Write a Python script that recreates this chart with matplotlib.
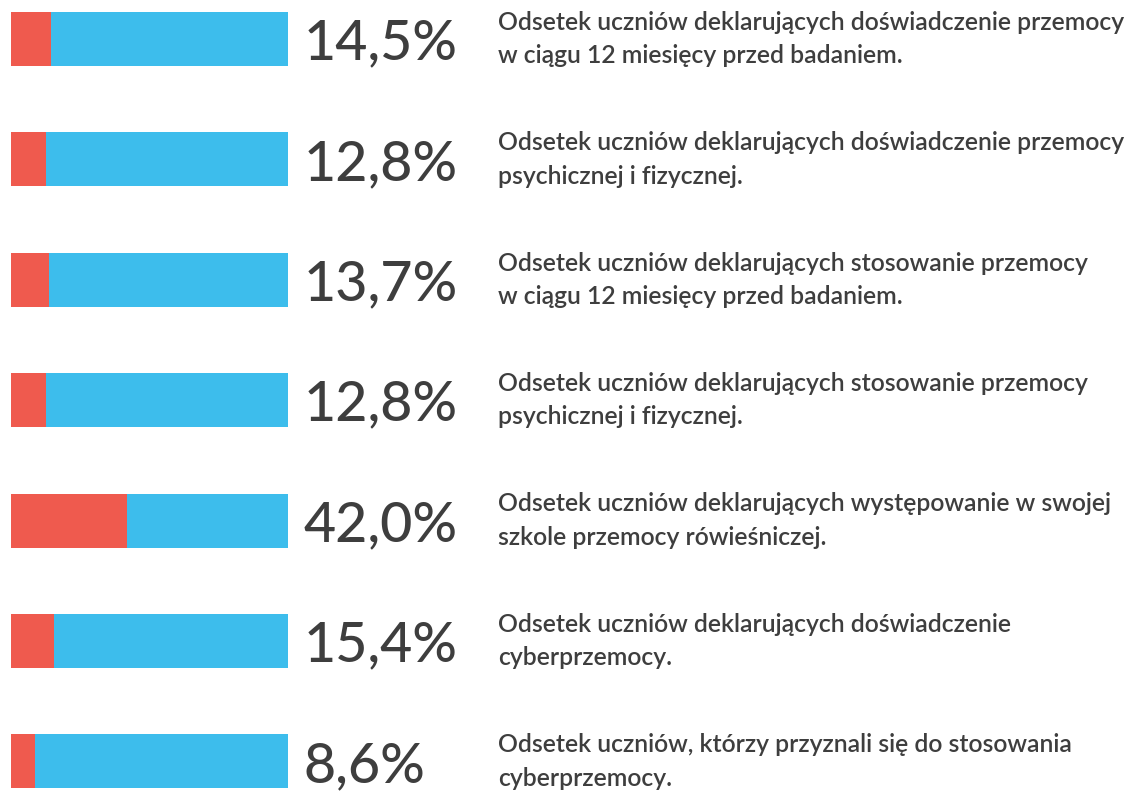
import matplotlib
matplotlib.use("Agg")
import matplotlib.pyplot as plt

# Share of students (percent) for each survey indicator
values = [14.5, 12.8, 13.7, 12.8, 42.0, 15.4, 8.6]
value_labels = ["14,5%", "12,8%", "13,7%", "12,8%", "42,0%", "15,4%", "8,6%"]
descriptions = [
    "Odsetek uczniów deklarujących doświadczenie przemocy\nw ciągu 12 miesięcy przed badaniem.",
    "Odsetek uczniów deklarujących doświadczenie przemocy\npsychicznej i fizycznej.",
    "Odsetek uczniów deklarujących stosowanie przemocy\nw ciągu 12 miesięcy przed badaniem.",
    "Odsetek uczniów deklarujących stosowanie przemocy\npsychicznej i fizycznej.",
    "Odsetek uczniów deklarujących występowanie w swojej\nszkole przemocy rówieśniczej.",
    "Odsetek uczniów deklarujących doświadczenie\ncyberprzemocy.",
    "Odsetek uczniów, którzy przyznali się do stosowania\ncyberprzemocy.",
]
total = 100.0

RED = "#EF5A4E"
BLUE = "#3DBDEC"
TEXT = "#3E3E3E"
FONT = "Lato"

W, H = 1133, 793
fig = plt.figure(figsize=(W / 100, H / 100), dpi=100)
fig.patch.set_facecolor("white")

# Bar strip: rows are spaced evenly down the page
top_px, row_px = 39.0, 120.4
n = len(values)
y0 = top_px - row_px / 2
ax = fig.add_axes([11 / W, 1 - (y0 + row_px * n) / H, 277 / W, row_px * n / H])
ax.set_xlim(0, total)
ax.set_ylim(n - 0.5, -0.5)
ax.axis("off")

rows = list(range(n))
bar_h = 0.45
ax.barh(rows, values, height=bar_h, color=RED, linewidth=0)
ax.barh(rows, [total - v for v in values], left=values, height=bar_h,
        color=BLUE, linewidth=0)

# Percentage figures and the description next to each bar
for i in rows:
    ax.annotate(value_labels[i], xy=(total, i), xytext=(11, 0),
                textcoords="offset points", ha="left", va="center_baseline",
                fontsize=40, fontweight="medium", color=TEXT, family=FONT)
    yc = 1 - (top_px + row_px * i) / H
    fig.text(498 / W, yc, descriptions[i], ha="left", va="center",
             fontsize=17.8, fontweight="semibold", color=TEXT, family=FONT,
             linespacing=1.55)

fig.savefig("out.png", dpi=100, facecolor="white")
